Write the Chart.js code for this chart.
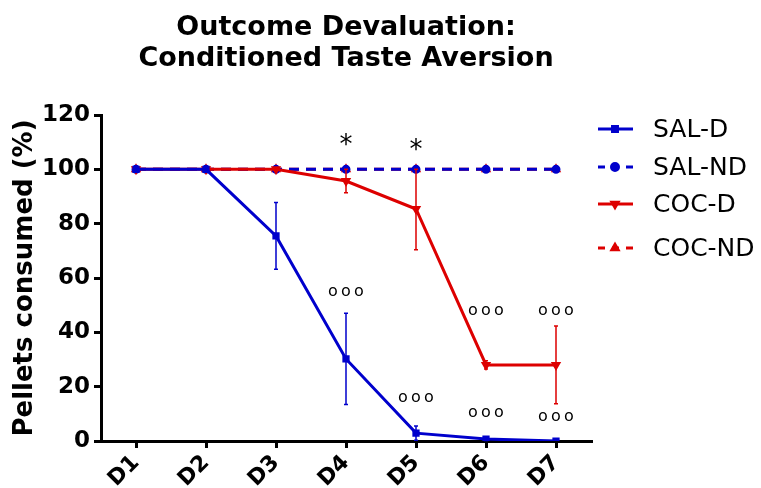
<!DOCTYPE html>
<html>
<head>
<meta charset="utf-8">
<script src="https://cdn.jsdelivr.net/npm/chart.js@4"></script>
<style>
  body { margin: 0; background: #fff; }
  #wrap { width: 761px; height: 488px; }
</style>
</head>
<body>
<div id="wrap"><canvas id="myChart" width="761" height="488"></canvas></div>
<script>
const days = ['D1', 'D2', 'D3', 'D4', 'D5', 'D6', 'D7'];
const salD = [100, 100, 75.5, 30.2, 2.9, 0.7, 0];
const salDErr = [0, 0, 12.3, 16.8, 2.6, 0.5, 0];
const salND = [100, 100, 100, 100, 100, 100, 100];
const cocD = [100, 100, 100, 95.7, 85.4, 28, 28];
const cocDErr = [0, 0, 0, 4.3, 15, 1.5, 14.3];
const cocND = [100, 100, 100, 100, 100, 100, 100];
const yTicks = [0, 20, 40, 60, 80, 100, 120];
const titleLines = ['Outcome Devaluation:', 'Conditioned Taste Aversion'];

// significance marks: [day index, y value, text]
const stars = [[3, 108.5, '*'], [4, 106.5, '*']];
const circles = [[3, 55, 'o'], [4, 16, 'o'], [5, 48, 'o'], [5, 10.5, 'o'], [6, 48, 'o'], [6, 9, 'o']];

const blue = '#0000cc';
const red = '#dd0000';
const fontFam = '"DejaVu Sans", sans-serif';

const extras = {
    id: 'extras',
    afterDatasetsDraw(chart) {
        const ctx = chart.ctx;
        const x = chart.scales.x, y = chart.scales.y;
        const sets = [[salD, salDErr, blue], [cocD, cocDErr, red]];
        ctx.save();
        // error bars
        sets.forEach(([vals, errs, col]) => {
            ctx.strokeStyle = col;
            ctx.lineWidth = 1.5;
            vals.forEach((v, i) => {
                if (!errs[i]) return;
                const px = x.getPixelForValue(i);
                const top = y.getPixelForValue(Math.min(v + errs[i], 100));
                const bot = y.getPixelForValue(Math.max(v - errs[i], 0));
                ctx.beginPath();
                ctx.moveTo(px, top); ctx.lineTo(px, bot);
                ctx.moveTo(px - 2, top); ctx.lineTo(px + 2, top);
                ctx.moveTo(px - 2, bot); ctx.lineTo(px + 2, bot);
                ctx.stroke();
            });
        });
        // significance marks
        ctx.fillStyle = '#000';
        ctx.textAlign = 'center';
        ctx.textBaseline = 'middle';
        ctx.font = '26px ' + fontFam;
        stars.forEach(([i, v, t]) => ctx.fillText(t, x.getPixelForValue(i), y.getPixelForValue(v)));
        ctx.font = '16px ' + fontFam;
        ctx.textBaseline = 'alphabetic';
        circles.forEach(([i, v, t]) => {
            const px = x.getPixelForValue(i), py = y.getPixelForValue(v);
            [-13, 0, 13].forEach(dx => ctx.fillText(t, px + dx, py + 4.5));
        });

        // title, centred over the plot
        ctx.font = 'bold 27px ' + fontFam;
        ctx.textBaseline = 'middle';
        const cx = (chart.chartArea.left + chart.chartArea.right) / 2;
        titleLines.forEach((t, k) => ctx.fillText(t, cx, 28 + k * 31));

        // legend
        const rows = [129, 167, 204, 248];
        ctx.font = '25px ' + fontFam;
        ctx.textAlign = 'left';
        chart.data.datasets.forEach((ds, k) => {
            const ly = rows[k];
            ctx.strokeStyle = ds.borderColor;
            ctx.lineWidth = 3;
            ctx.setLineDash(ds.borderDash ? [7, 7] : []);
            ctx.beginPath();
            ctx.moveTo(598, ly); ctx.lineTo(633, ly);
            ctx.stroke();
            ctx.setLineDash([]);
            ctx.fillStyle = ds.borderColor;
            Chart.helpers.drawPoint(ctx, { pointStyle: ds.pointStyle, radius: 3.5, rotation: ds.rotation || 0, borderWidth: 1 }, 615, ly);
            ctx.fillStyle = '#000';
            ctx.fillText(ds.label, 653, ly + 1);
        });
        ctx.restore();
    }
};

const data = {
    labels: days,
    datasets: [
        { label: 'SAL-D', data: salD, borderColor: blue, backgroundColor: blue, borderWidth: 3,
          pointStyle: 'rect', pointRadius: 3, order: 1 },
        { label: 'SAL-ND', data: salND, borderColor: blue, backgroundColor: blue, borderWidth: 3,
          borderDash: [10, 7], pointStyle: 'circle', pointRadius: 3, order: 3 },
        { label: 'COC-D', data: cocD, borderColor: red, backgroundColor: red, borderWidth: 3,
          pointStyle: 'triangle', rotation: 180, pointRadius: 3, order: 2 },
        { label: 'COC-ND', data: cocND, borderColor: red, backgroundColor: red, borderWidth: 3,
          borderDash: [10, 7], pointStyle: 'triangle', pointRadius: 3, order: 4 }
    ]
};

const config = {
    type: 'line',
    data: data,
    plugins: [extras],
    options: {
        responsive: false,
        animation: false,
        layout: { padding: { left: 0, right: 170, top: 115, bottom: 0 } },
        plugins: {
            legend: { display: false },
            tooltip: { enabled: false },
            title: { display: false }
        },
        scales: {
            x: {
                offset: true,
                grid: { display: true, drawOnChartArea: false, drawTicks: true, tickLength: 7, color: '#000', lineWidth: 3 },
                border: { color: '#000', width: 3 },
                ticks: { color: '#000', maxRotation: 45, minRotation: 45, padding: 2,
                         font: { family: fontFam, size: 22, weight: 'bold' } },
                afterFit(s) { s.height = 47; }
            },
            y: {
                min: 0, max: 120,
                afterBuildTicks(s) { s.ticks = yTicks.map(v => ({ value: v })); },
                grid: { display: true, drawOnChartArea: false, drawTicks: true, tickLength: 7, color: '#000', lineWidth: 3 },
                border: { color: '#000', width: 3 },
                ticks: { color: '#000', padding: 4,
                         font: { family: fontFam, size: 23, weight: 'bold' } },
                title: { display: true, text: 'Pellets consumed (%)', color: '#000', padding: { top: 10, bottom: 0 },
                         font: { family: fontFam, size: 26, weight: 'bold' } },
                afterFit(s) { s.width = 101; }
            }
        }
    }
};

const myChart = new Chart(document.getElementById('myChart'), config);
</script>
</body>
</html>
